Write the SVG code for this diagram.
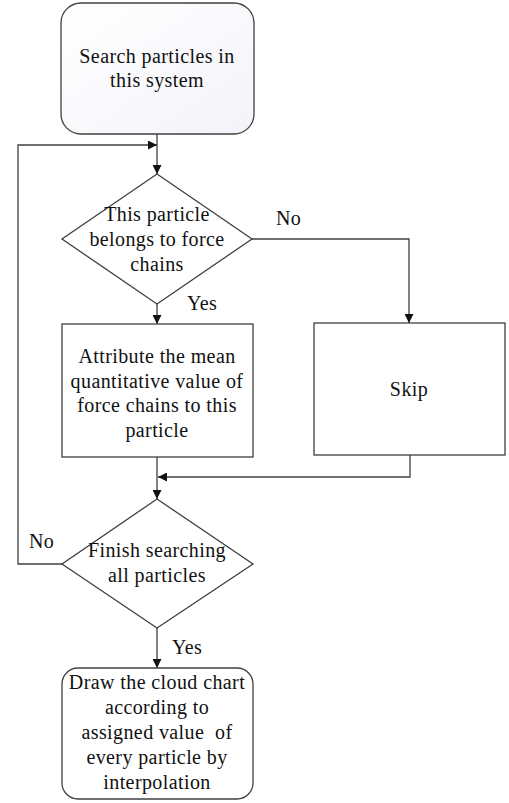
<svg xmlns="http://www.w3.org/2000/svg" width="509" height="803" viewBox="0 0 509 803">
<style>
text{font-family:"Liberation Serif","Times New Roman",serif;font-size:20px;letter-spacing:0.4px;fill:#111111;text-anchor:middle}
.lbl{text-anchor:start}
.shape{stroke:#404040;stroke-width:1.3;fill:#ffffff}
.conn{stroke:#404040;stroke-width:1.3;fill:none}
</style>
<defs>
<linearGradient id="g1" x1="0" y1="0" x2="1" y2="1">
<stop offset="0" stop-color="#ffffff"/>
<stop offset="1" stop-color="#f3f4f9"/>
</linearGradient>
<marker id="arr" viewBox="0 0 10 10" refX="10" refY="5" markerWidth="9" markerHeight="9" markerUnits="userSpaceOnUse" orient="auto">
<path d="M0,0 L10,5 L0,10 z" fill="#111111"/>
</marker>
</defs>
<g id="connectors">
<line class="conn" x1="157" y1="134" x2="157" y2="174" marker-end="url(#arr)"/>
<polyline class="conn" points="62,564 18,564 18,145 157,145" marker-end="url(#arr)"/>
<polyline class="conn" points="252,239 409,239 409,323" marker-end="url(#arr)"/>
<line class="conn" x1="157" y1="304" x2="157" y2="324" marker-end="url(#arr)"/>
<polyline class="conn" points="410,455 410,477 158,477" marker-end="url(#arr)"/>
<line class="conn" x1="157" y1="457" x2="157" y2="499" marker-end="url(#arr)"/>
<line class="conn" x1="157" y1="628" x2="157" y2="668" marker-end="url(#arr)"/>
<text class="lbl" x="276" y="225">No</text>
<text class="lbl" x="187" y="310">Yes</text>
<text class="lbl" x="29" y="548">No</text>
<text class="lbl" x="172" y="654">Yes</text>
</g>
<g id="start">
<rect class="shape" x="61" y="3" width="193" height="131" rx="20" style="fill:url(#g1)"/>
<text x="157" y="63">Search particles in</text>
<text x="157" y="87">this system</text>
</g>
<g id="decision1">
<polygon class="shape" points="157,174 252,239 157,304 62,239"/>
<text x="157" y="221">This particle</text>
<text x="157" y="246">belongs to force</text>
<text x="157" y="271">chains</text>
</g>
<g id="attribute">
<rect class="shape" x="62" y="324" width="191" height="133"/>
<text x="157" y="363">Attribute the mean</text>
<text x="157" y="388">quantitative value of</text>
<text x="157" y="412">force chains to this</text>
<text x="157" y="437">particle</text>
</g>
<g id="skip">
<rect class="shape" x="314" y="323" width="191" height="132"/>
<text x="409" y="396">Skip</text>
</g>
<g id="decision2">
<polygon class="shape" points="157,499 253,564 157,628 62,564"/>
<text x="157" y="557">Finish searching</text>
<text x="157" y="582">all particles</text>
</g>
<g id="end">
<rect class="shape" x="62" y="668" width="191" height="131" rx="16"/>
<text x="157" y="689">Draw the cloud chart</text>
<text x="157" y="714">according to</text>
<text x="157" y="739" xml:space="preserve">assigned value  of</text>
<text x="157" y="764">every particle by</text>
<text x="157" y="789">interpolation</text>
</g>
</svg>
